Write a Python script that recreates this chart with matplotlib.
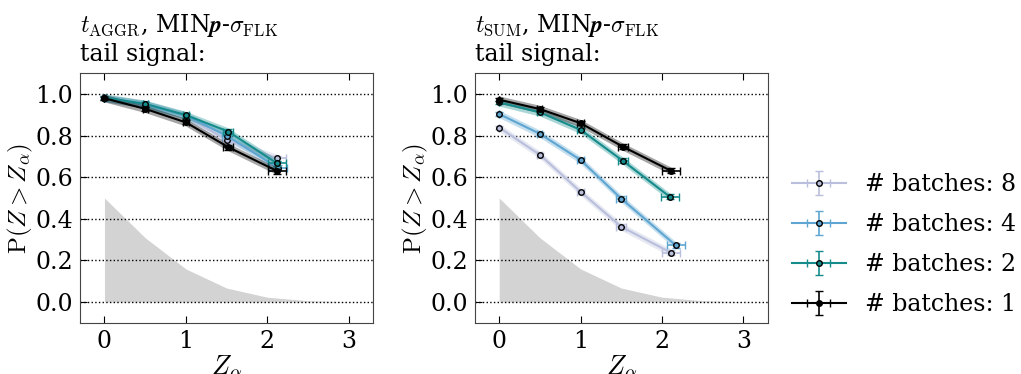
import numpy as np
import matplotlib
matplotlib.use("Agg")
import matplotlib.pyplot as plt

plt.rcParams['font.family'] = ['DejaVu Serif']
plt.rcParams['mathtext.fontset'] = 'cm'

labels = ['# batches: 8', '# batches: 4', '# batches: 2', '# batches: 1']
colors = ['#b9bfdc', '#5ea6d1', '#158b8b', '#000000']

# power curves, t_AGGR
aggr_z = {
    '8': [0.0, 0.5, 1.0, 1.5, 2.12],
    '4': [0.0, 0.5, 1.0, 1.5, 2.13],
    '2': [0.0, 0.5, 1.0, 1.52, 2.12],
    '1': [0.0, 0.5, 1.0, 1.52, 2.12],
}
aggr_p = {
    '8': [0.980, 0.952, 0.893, 0.779, 0.692],
    '4': [0.981, 0.950, 0.896, 0.800, 0.645],
    '2': [0.983, 0.953, 0.899, 0.820, 0.667],
    '1': [0.980, 0.929, 0.864, 0.745, 0.630],
}

# power curves, t_SUM
sum_z = {
    '8': [0.0, 0.5, 1.0, 1.5, 2.11],
    '4': [0.0, 0.5, 1.0, 1.5, 2.17],
    '2': [0.0, 0.5, 1.0, 1.52, 2.10],
    '1': [0.0, 0.5, 1.0, 1.52, 2.11],
}
sum_p = {
    '8': [0.839, 0.708, 0.530, 0.362, 0.237],
    '4': [0.904, 0.809, 0.683, 0.497, 0.272],
    '2': [0.960, 0.912, 0.828, 0.679, 0.505],
    '1': [0.973, 0.928, 0.860, 0.747, 0.631],
}

# horizontal / vertical errors and band half-width
x_err = [0.0, 0.03, 0.04, 0.06, 0.11]
y_err = [0.008, 0.01, 0.01, 0.012, 0.012]
band = 0.018

# standard normal tail
tail_z = [0.0, 0.5, 1.0, 1.5, 2.0, 2.5, 3.0, 3.5]
tail_p = [0.5, 0.309, 0.159, 0.067, 0.023, 0.006, 0.0013, 0.0002]

keys = ['8', '4', '2', '1']

fig = plt.figure(figsize=(10.21, 3.74), dpi=100)
ax1 = fig.add_axes([0.0784, 0.137, 0.287, 0.667])
ax2 = fig.add_axes([0.465, 0.137, 0.287, 0.667])

titles = [r'$t_{\rm AGGR}$, MIN$\boldsymbol{p}$-$\sigma_{\rm FLK}$' + '\ntail signal:',
          r'$t_{\rm SUM}$, MIN$\boldsymbol{p}$-$\sigma_{\rm FLK}$' + '\ntail signal:']

handles = []
for ax, zs, ps, title in [(ax1, aggr_z, aggr_p, titles[0]), (ax2, sum_z, sum_p, titles[1])]:
    ax.fill_between(tail_z, 0, tail_p, color='#d3d3d3', lw=0, zorder=1)
    for i, k in enumerate(keys):
        z = np.array(zs[k])
        p = np.array(ps[k])
        c = colors[i]
        ax.fill_between(z, p - band, p + band, color=c, alpha=0.35, lw=0, zorder=2 + i)
        h = ax.errorbar(z, p, xerr=x_err, yerr=y_err, color=c, lw=1.5,
                        marker='o', ms=4, mfc=c, mec='black', mew=1.0,
                        capsize=3, elinewidth=1.2, zorder=3 + i, label=labels[i])
        if ax is ax1:
            handles.append(h)
    ax.set_xlim(-0.3, 3.3)
    ax.set_ylim(-0.1, 1.1)
    ax.set_xticks([0, 1, 2, 3])
    ax.set_yticks([0.0, 0.2, 0.4, 0.6, 0.8, 1.0])
    ax.set_yticklabels(['0.0', '0.2', '0.4', '0.6', '0.8', '1.0'])
    ax.yaxis.grid(True, ls=':', color='black', lw=1)
    ax.tick_params(direction='in', top=True, right=False, labelsize=17, length=5, pad=5)
    for s in ax.spines.values():
        s.set_color('#444444')
    ax.set_xlabel(r'$Z_{\alpha}$', fontsize=19, labelpad=0)
    ax.set_ylabel(r'$\mathrm{P}(Z > Z_{\alpha})$', fontsize=18, labelpad=0)
    ax.set_title(title, loc='left', fontsize=17, linespacing=1.2, pad=9)

fig.legend(handles, labels, loc='center left', bbox_to_anchor=(0.766, 0.345),
           frameon=False, fontsize=17, handlelength=2.3, labelspacing=0.72,
           handletextpad=0.8, borderaxespad=0)

fig.savefig('out.png', dpi=100)
